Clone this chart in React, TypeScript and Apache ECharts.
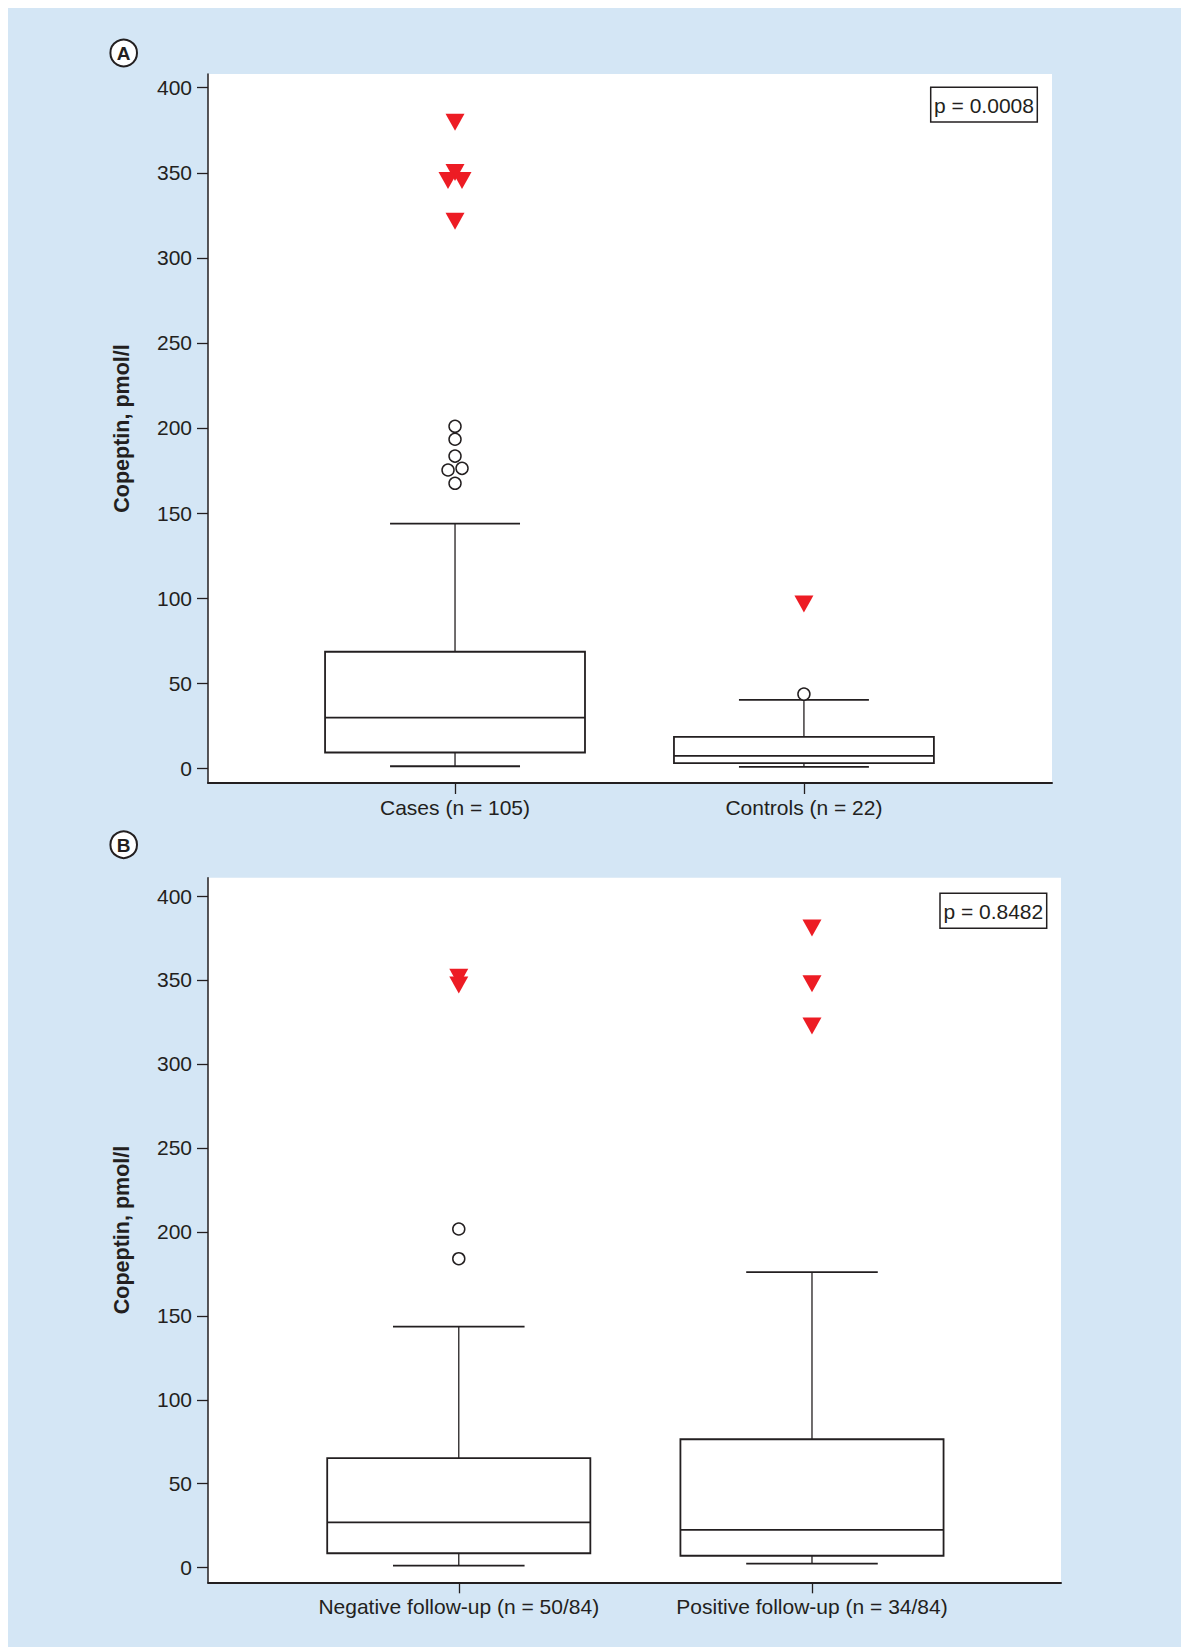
import React, { useEffect, useRef } from "react";
import * as echarts from "echarts";

// ---- data ----
const categoriesA = ["Cases (n = 105)", "Controls (n = 22)"];
const categoriesB = ["Negative follow-up (n = 50/84)", "Positive follow-up (n = 34/84)"];
const yTicks = [0, 50, 100, 150, 200, 250, 300, 350, 400];

// [min whisker, Q1, median, Q3, max whisker]
const boxCases = [1.2, 9.3, 29.8, 68.5, 143.8];
const boxControls = [0.8, 3.0, 7.3, 18.5, 40.2];
const boxNegative = [1.2, 8.6, 27.0, 65.2, 143.5];
const boxPositive = [2.4, 7.1, 22.5, 76.5, 176.0];

// outliers (open circles) and extremes (red triangles)
const outCases = [201.0, 193.4, 183.5, 175.3, 176.3, 167.5];
const extCases = [379.7, 350.2, 345.5, 345.5, 321.5];
const outControls = [43.6];
const extControls = [96.5];
const outNegative = [201.7, 184.0];
const extNegative = [351.6, 347.0];
const outPositive: number[] = [];
const extPositive = [381.0, 347.8, 322.6];

const pValueA = "p = 0.0008";
const pValueB = "p = 0.8482";
const yName = "Copeptin, pmol/l";

// ---- styling (pixel offsets for overlapping markers) ----
const jitterOutCases = [0, 0, 0, -7, 7, 0];
const jitterExtCases = [0, 0, -7, 7, 0];

const INK = "#231f20";
const RED = "#ed1c24";
const BLUE = "#d4e6f5";
const FONT = "'Liberation Sans', Arial, Helvetica, sans-serif";
const BOX_UNITS = 0.745;

function renderBox(_params: any, api: any) {
  const x = api.value(0);
  const p = [1, 2, 3, 4, 5].map((i) => api.coord([x, api.value(i)]));
  const bw = api.size([BOX_UNITS, 0])[0];
  const cx = p[0][0];
  const half = bw / 2;
  const cap = bw / 4;
  const thin = { stroke: INK, lineWidth: 1.3 };
  const thick = { stroke: INK, lineWidth: 1.8 };
  return {
    type: "group",
    children: [
      { type: "line", shape: { x1: cx, y1: p[3][1], x2: cx, y2: p[4][1] }, style: thin },
      { type: "line", shape: { x1: cx, y1: p[0][1], x2: cx, y2: p[1][1] }, style: thin },
      { type: "line", shape: { x1: cx - cap, y1: p[4][1], x2: cx + cap, y2: p[4][1] }, style: thick },
      { type: "line", shape: { x1: cx - cap, y1: p[0][1], x2: cx + cap, y2: p[0][1] }, style: thick },
      {
        type: "rect",
        shape: { x: cx - half, y: p[3][1], width: bw, height: p[1][1] - p[3][1] },
        style: { fill: "#fff", stroke: INK, lineWidth: 1.8 },
      },
      { type: "line", shape: { x1: cx - half, y1: p[2][1], x2: cx + half, y2: p[2][1] }, style: thick },
    ],
  };
}

function pts(group: number, vals: number[], jitter?: number[]) {
  return vals.map((v, i) => ({
    value: [group, v],
    symbolOffset: [jitter ? jitter[i] : 0, 0],
  }));
}

function axesFor(gridIndex: number, cats: string[], xmin: number, xmax: number, ymin: number, ymax: number) {
  const xAxis = {
    type: "value",
    gridIndex,
    min: xmin,
    max: xmax,
    axisLine: { show: true, onZero: false, lineStyle: { color: INK, width: 2 } },
    axisTick: { show: true, customValues: [0, 1], length: 11, lineStyle: { color: INK, width: 1.3 } },
    axisLabel: {
      customValues: [0, 1],
      formatter: (v: number) => cats[Math.round(v)] ?? "",
      margin: 14,
      fontSize: 21,
      color: INK,
      fontFamily: FONT,
    },
    splitLine: { show: false },
  };
  const yAxis = {
    type: "value",
    gridIndex,
    min: ymin,
    max: ymax,
    name: yName,
    nameLocation: "middle",
    nameGap: 75,
    nameTextStyle: { fontSize: 21.5, fontWeight: "bold", color: INK, fontFamily: FONT },
    axisLine: { show: true, onZero: false, lineStyle: { color: INK, width: 1.5 } },
    axisTick: { show: true, customValues: yTicks, length: 11, lineStyle: { color: INK, width: 1.3 } },
    axisLabel: { customValues: yTicks, margin: 16, fontSize: 21, color: INK, fontFamily: FONT },
    splitLine: { show: false },
  };
  return { xAxis, yAxis };
}

export default function App() {
  const ref = useRef<HTMLDivElement>(null);
  useEffect(() => {
    const chart = echarts.init(ref.current!, null, { renderer: "svg" });
    const a = axesFor(0, categoriesA, -0.708, 1.711, -8.64, 408.05);
    const b = axesFor(1, categoriesB, -0.71, 1.705, -8.7, 410.9);

    const boxSeries = (xi: number, data: number[][]) => ({
      type: "custom",
      xAxisIndex: xi,
      yAxisIndex: xi,
      renderItem: renderBox,
      encode: { x: 0, y: [1, 2, 3, 4, 5] },
      data,
      z: 2,
    });
    const circleSeries = (xi: number, data: any[]) => ({
      type: "scatter",
      xAxisIndex: xi,
      yAxisIndex: xi,
      symbol: "circle",
      symbolSize: 12,
      itemStyle: { color: "#fff", borderColor: INK, borderWidth: 1.5, opacity: 1 },
      data,
      z: 3,
    });
    const triSeries = (xi: number, data: any[]) => ({
      type: "scatter",
      xAxisIndex: xi,
      yAxisIndex: xi,
      symbol: "triangle",
      symbolRotate: 180,
      symbolSize: [19, 17],
      itemStyle: { color: RED, opacity: 1 },
      data,
      z: 4,
    });

    const option: any = {
      animation: false,
      textStyle: { fontFamily: FONT },
      grid: [
        { left: 200, top: 66, width: 844, height: 709, show: true, backgroundColor: "#fff", borderWidth: 0 },
        { left: 200, top: 869.7, width: 853, height: 704.6, show: true, backgroundColor: "#fff", borderWidth: 0 },
      ],
      xAxis: [a.xAxis, b.xAxis],
      yAxis: [a.yAxis, b.yAxis],
      series: [
        boxSeries(0, [[0, ...boxCases], [1, ...boxControls]]),
        circleSeries(0, [...pts(0, outCases, jitterOutCases), ...pts(1, outControls)]),
        triSeries(0, [...pts(0, extCases, jitterExtCases), ...pts(1, extControls)]),
        boxSeries(1, [[0, ...boxNegative], [1, ...boxPositive]]),
        circleSeries(1, [...pts(0, outNegative), ...pts(1, outPositive)]),
        triSeries(1, [...pts(0, extNegative), ...pts(1, extPositive)]),
      ],
      graphic: [
        { type: "circle", shape: { cx: 115.7, cy: 45, r: 13.3 }, style: { fill: "#fff", stroke: INK, lineWidth: 2 } },
        {
          type: "text",
          x: 115.7,
          y: 45.5,
          style: { text: "A", fontSize: 19, fontWeight: "bold", fill: INK, align: "center", verticalAlign: "middle", fontFamily: FONT },
        },
        { type: "circle", shape: { cx: 115.7, cy: 836.7, r: 13.3 }, style: { fill: "#fff", stroke: INK, lineWidth: 2 } },
        {
          type: "text",
          x: 115.7,
          y: 837.2,
          style: { text: "B", fontSize: 19, fontWeight: "bold", fill: INK, align: "center", verticalAlign: "middle", fontFamily: FONT },
        },
        {
          type: "rect",
          shape: { x: 922.7, y: 79.3, width: 106.6, height: 34.7 },
          style: { fill: "#fff", stroke: INK, lineWidth: 1.5 },
          z: 10,
        },
        {
          type: "text",
          x: 976,
          y: 97,
          style: { text: pValueA, fontSize: 21, fill: INK, align: "center", verticalAlign: "middle", fontFamily: FONT },
          z: 11,
        },
        {
          type: "rect",
          shape: { x: 932, y: 885.3, width: 106.7, height: 35 },
          style: { fill: "#fff", stroke: INK, lineWidth: 1.5 },
          z: 10,
        },
        {
          type: "text",
          x: 985.3,
          y: 903,
          style: { text: pValueB, fontSize: 21, fill: INK, align: "center", verticalAlign: "middle", fontFamily: FONT },
          z: 11,
        },
      ],
    };
    chart.setOption(option);
    return () => chart.dispose();
  }, []);

  return (
    <div style={{ position: "fixed", left: 8, top: 8, width: 1173, height: 1639, background: BLUE }}>
      <div ref={ref} style={{ width: 1173, height: 1639 }} />
    </div>
  );
}
